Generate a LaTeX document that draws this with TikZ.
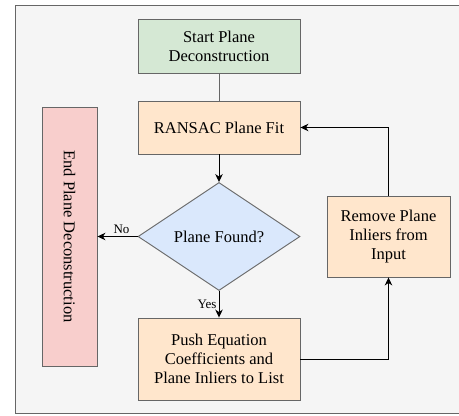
\documentclass[tikz,border=0pt]{standalone}
\usepackage{fontspec}
\setmainfont{Liberation Serif}
\usetikzlibrary{arrows.meta}
\usetikzlibrary{shapes.geometric}
\definecolor{framefill}{HTML}{F5F5F5}
\definecolor{framedraw}{HTML}{666666}
\definecolor{greenfill}{HTML}{D5E8D4}
\definecolor{orangefill}{HTML}{FFE6CC}
\definecolor{bluefill}{HTML}{DAE8FC}
\definecolor{redfill}{HTML}{F8CECC}
\tikzstyle{startstop} = [rectangle, minimum width=162pt, minimum height=54pt, text centered, align=center, draw=framedraw, fill=greenfill]
\tikzstyle{process} = [rectangle, minimum width=162pt, minimum height=53pt, text centered, align=center, draw=framedraw, fill=orangefill]
\tikzstyle{decision} = [diamond, aspect=1.5, inner sep=0pt, minimum width=162pt, minimum height=108pt, text centered, draw=framedraw, fill=bluefill]
\tikzstyle{endbar} = [rectangle, minimum width=259pt, minimum height=55pt, text centered, draw=framedraw, fill=redfill, rotate=-90]
\tikzstyle{arrow} = [line width=1pt,->,>={Stealth[length=8pt,width=7.5pt,inset=2.5pt]}]
\tikzstyle{lbl} = [font=\fontsize{13}{15}\selectfont, inner sep=2pt]

\begin{document}
\begin{tikzpicture}[x=1pt, y=-1pt, font=\fontsize{16.5}{19}\selectfont, line width=0.9pt]
\useasboundingbox (0,0) rectangle (459,416);
\draw[draw=framedraw, fill=framefill] (15,5.5) rectangle (475,413);

\node (start) [startstop] at (219,46) {Start Plane\\Deconstruction};
\node (fit) [process] at (219,127.5) {RANSAC Plane Fit};
\node (found) [decision] at (219,236.5) {Plane Found?};
\node (push) [process, minimum height=82pt] at (219,359) {Push Equation\\Coefficients and\\Plane Inliers to List};
\node (remove) [process, minimum width=123pt, minimum height=81pt] at (388.5,236.5) {Remove Plane\\Inliers from\\Input};
\node (stop) [endbar] at (69.5,236.5) {End Plane Deconstruction};

\draw [draw=framedraw] (start) -- (fit);
\draw [arrow] (fit) -- (found);
\draw [arrow] (found) -- node[lbl, above, pos=0.4] {No} (stop);
\draw [arrow] (found) -- node[lbl, left] {Yes} (push);
\draw [arrow] (push.east) -| (remove.south);
\draw [arrow] (remove.north) |- (fit.east);

\end{tikzpicture}
\end{document}
